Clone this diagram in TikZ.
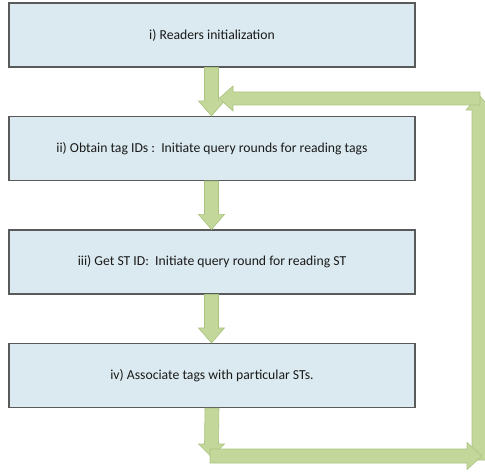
\documentclass[tikz,border=0pt]{standalone}
\usepackage{fontspec}
\setmainfont{Carlito}
\usetikzlibrary{calc}
\definecolor{boxfill}{HTML}{DBEAF0}
\definecolor{boxline}{HTML}{5A5A5A}
\definecolor{arrfill}{HTML}{C4D79B}
\definecolor{arrline}{HTML}{A9C47F}
\definecolor{txt}{HTML}{1A1A1A}
\tikzset{
  stepbox/.style={draw=boxline, line width=1.1pt, fill=boxfill, minimum width=406pt, minimum height=64pt, inner sep=0pt, font=\fontsize{13.7pt}{16pt}\selectfont, text=txt},
  blockarrow/.style={fill=arrfill, draw=arrline, line width=0.6pt, line join=miter}
}
\begin{document}
\begin{tikzpicture}[x=1pt,y=1pt]
\useasboundingbox (0,0) rectangle (485,472);
\clip (0,0) rectangle (485,472);
\node[stepbox] (b1) at (212,437) {i) Readers initialization};
\node[stepbox] (b2) at (212,323.5) {ii) Obtain tag IDs :\ \ Initiate query rounds for reading tags};
\node[stepbox] (b3) at (212,210) {iii) Get ST ID:\ \ Initiate query round for reading ST};
\node[stepbox] (b4) at (212,96.5) {iv) Associate tags with particular STs.};
% loop coordinates
\coordinate (bt) at (211.5,15);   % bottom tip of last down arrow
\coordinate (rt) at (482,16);     % tip of right arrow
\coordinate (ut) at (479,377);    % tip of up arrow
\coordinate (lt) at (219,373.5);  % tip of left arrow
% down arrows between boxes
\foreach \a/\b in {b1/b2,b2/b3,b3/b4}{
  \draw[blockarrow]
    ($(\a.south)+(-7.5,0)$) -- ($(\a.south)+(6.5,0)$)
    -- ($(\b.north)+(6.5,15)$) -- ($(\b.north)+(12.5,15)$)
    -- ($(\b.north)+(-0.5,0)$)
    -- ($(\b.north)+(-13.5,15)$) -- ($(\b.north)+(-7.5,15)$) -- cycle;
}
% down arrow from last box
\draw[blockarrow]
  ($(b4.south)+(-7,0)$) -- ($(b4.south)+(7,0)$)
  -- ($(bt)+(7,13)$) -- ($(bt)+(13,13)$) -- (bt)
  -- ($(bt)+(-13,13)$) -- ($(bt)+(-7,13)$) -- cycle;
% up arrow on the right
\draw[blockarrow]
  (472,12) -- (486,12) -- ($(ut)+(7,-15)$) -- ($(ut)+(13,-15)$) -- (ut)
  -- ($(ut)+(-13,-15)$) -- ($(ut)+(-7,-15)$) -- cycle;
% right arrow at bottom
\draw[blockarrow]
  (210,23) -- ($(rt)+(-15,7)$) -- ($(rt)+(-15,13.5)$) -- (rt)
  -- ($(rt)+(-15,-13.5)$) -- ($(rt)+(-15,-7)$) -- (210,9) -- cycle;
% left arrow at top
\draw[blockarrow]
  (480,380) -- ($(lt)+(14,6.5)$) -- ($(lt)+(14,12.5)$) -- (lt)
  -- ($(lt)+(14,-12.5)$) -- ($(lt)+(14,-6.5)$) -- (480,367) -- cycle;
\end{tikzpicture}
\end{document}
